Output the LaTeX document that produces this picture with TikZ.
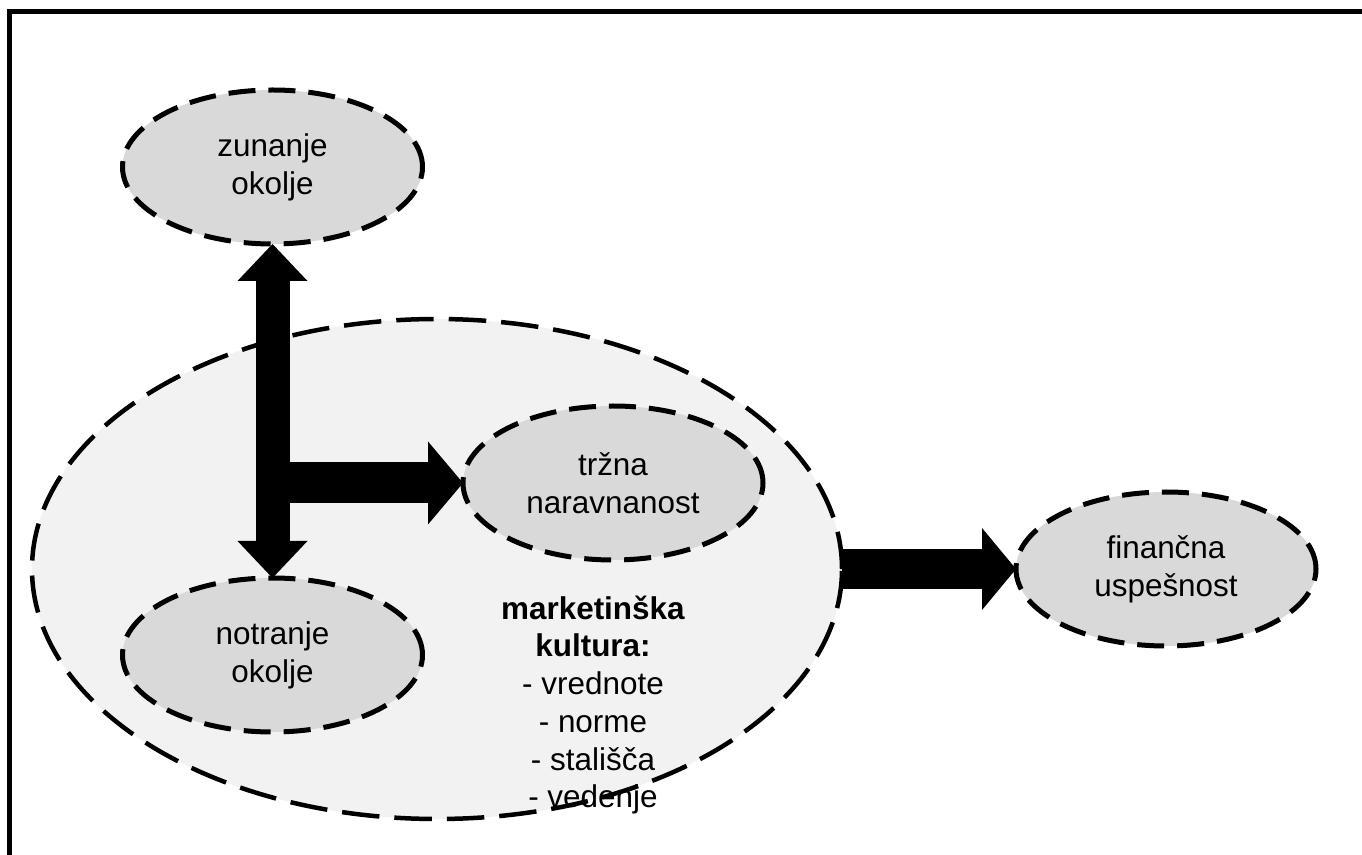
\documentclass[tikz,border=0pt]{standalone}
\usepackage{fontspec}
\setmainfont{Liberation Sans}
\usepackage{xcolor}
\usepackage{tikz}
\usetikzlibrary{arrows.meta,shapes.geometric}
\definecolor{kulturafill}{RGB}{242,242,242}
\definecolor{okoljefill}{RGB}{217,217,217}
\tikzset{
  okoljenode/.style={ellipse, draw=black, fill=okoljefill, line width=1mm,
    dash pattern=on 5.4mm off 2.6mm, minimum width=6cm, minimum height=3.08cm,
    inner sep=0pt, outer sep=0pt, align=center},
  kulturanode/.style={ellipse, draw=black, fill=kulturafill, line width=.9mm,
    dash pattern=on 7.5mm off 3mm, minimum width=16.2cm, minimum height=10cm,
    inner sep=0pt, outer sep=0pt},
  blockarrow/.style={draw=black, line cap=butt}
}

\begin{document}
\begin{tikzpicture}[font=\fontsize{17.9}{21.5}\selectfont]
  \useasboundingbox (0,0) rectangle (27.24,17.08);

  % Frame: only the top and left edges fall inside the picture.
  \draw[line width=1mm, line join=miter] (0.19,-0.1) -- (0.19,16.84) -- (27.4,16.84);

  % The market culture ellipse and its list.
  \node[kulturanode] (kultura) at (8.74,5.70) {};
  \node[align=center] (kulturatext) at (11.86,2.98)
    {\textbf{marketinška}\\ \textbf{kultura:}\\ - vrednote\\ - norme\\
     - stališča\\ - vedenje};

  \node[okoljenode] (zunanje) at (5.45,13.74) {zunanje\\ okolje};
  \node[okoljenode] (notranje) at (5.45,3.98) {notranje\\ okolje};
  \node[okoljenode] (trzna) at (12.26,7.42) {tržna\\ naravnanost};
  \node[okoljenode] (financna) at (23.32,5.70) {finančna\\ uspešnost};

  \coordinate (razcep) at (zunanje.south |- trzna.west);

  % Block arrows.
  \draw[blockarrow, line width=6.8mm,
    {Triangle[length=7.4mm, width=14mm, line width=0pt]}-{Triangle[length=7.4mm,
      width=14mm, line width=0pt]}]
    (zunanje.south) -- (notranje.north);
  \draw[blockarrow, line width=8.2mm,
    -{Triangle[length=7mm, width=16.6mm, line width=0pt]}]
    (razcep) -- (trzna.west);
  \draw[blockarrow, line width=8mm,
    -{Triangle[length=6.8mm, width=16.4mm, line width=0pt]}]
    (kultura.east) -- (financna.west);
\end{tikzpicture}
\end{document}
